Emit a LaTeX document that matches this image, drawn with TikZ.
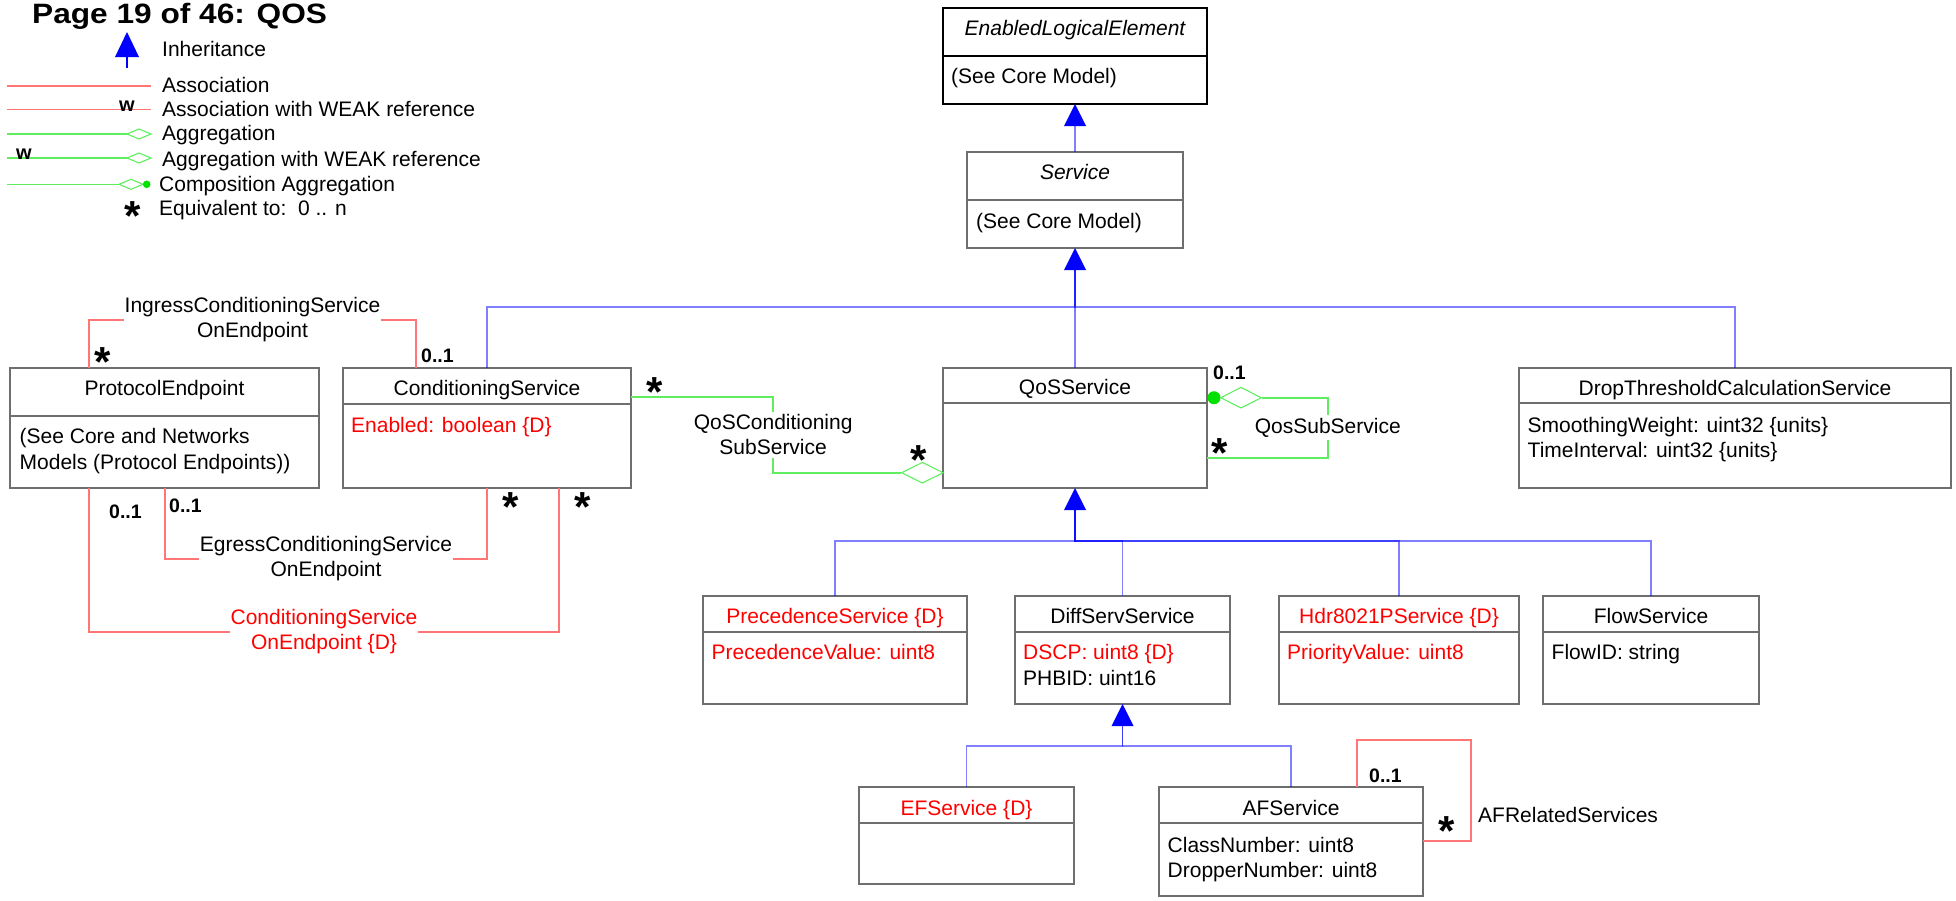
\documentclass[tikz,border=0pt]{standalone}
\usepackage{fontspec}
\setmainfont{Liberation Sans}
\usetikzlibrary{calc,shapes.geometric}
\definecolor{boxgray}{RGB}{110,110,110}
\definecolor{assocred}{RGB}{255,118,118}
\definecolor{agggreen}{RGB}{96,238,96}
\definecolor{compgreen}{RGB}{0,225,0}
\definecolor{dred}{RGB}{255,0,0}
\definecolor{inhblue}{RGB}{0,0,255}
\tikzset{
  clsbox/.style={draw=boxgray, line width=2pt, fill=white, inner sep=0pt, outer sep=0pt, anchor=north west},
  clsline/.style={draw=boxgray, line width=2pt},
  txt/.style={font=\fontsize{21}{25}\selectfont, inner sep=0pt, text=black},
  ttl/.style={txt, anchor=base},
  attr/.style={txt, anchor=base west},
  lbl/.style={font=\fontsize{21}{25}\selectfont, align=center, fill=white, inner xsep=1pt, inner ysep=3pt},
  mult/.style={font=\bfseries\fontsize{19.5}{22}\selectfont, inner sep=0pt, anchor=base west},
  ast/.style={font=\bfseries\fontsize{42}{42}\selectfont, inner sep=0pt, anchor=base},
  inh/.style={draw=inhblue, draw opacity=0.5, line width=1.6pt},
  assoc/.style={draw=assocred, line width=1.6pt},
  agg/.style={draw=agggreen, line width=1.6pt},
  aggdia/.style={diamond, draw=agggreen, fill=white, line width=1.1pt, inner sep=0pt, aspect=2},
  wmark/.style={font=\bfseries\fontsize{20}{22}\selectfont, inner sep=0pt, anchor=base},
}
\newcommand\umlbox[7][]{%
  \node[clsbox,#1,minimum width={#5-#3},minimum height={#6-#4}] (#2) at (#3,#4) {};
  \draw[clsline,#1] (#3,#7) -- (#5,#7);}
\newcommand\inhtip[1]{\fill[inhblue] (#1) -- ++(-11,22) -- ++(22,0) -- cycle;}
\newcommand\astnode[3]{\node[ast] (#1) at (#2,#3+21.5) {*};}
\begin{document}
\begin{tikzpicture}[x=1pt,y=-1pt]
\useasboundingbox (0,0) rectangle (1956,900);
% ---------------- title
\node[anchor=base west, inner sep=0pt, font=\bfseries\fontsize{28}{30}\selectfont] (title) at (32,23) {\scalebox{1.13}[1]{Page 19 of 46: QOS}};
% ---------------- legend
\coordinate (lgI) at (127,32);
\fill[inhblue] (lgI) -- ++(12,25) -- ++(-24,0) -- cycle;
\draw[inhblue, line width=2pt] ($(lgI)+(0,25)$) -- ++(0,11);
\node[attr] (lgIt) at (162,56.7) {Inheritance};
\coordinate (lgA1) at (7,86); \coordinate (lgA2) at (151,86);
\draw[assoc] (lgA1) -- (lgA2);
\node[attr] (lgAt) at (162,92) {Association};
\coordinate (lgW1) at (7,109.5); \coordinate (lgW2) at (151,109.5);
\draw[assoc] (lgW1) -- (lgW2);
\node[wmark] (lgWw) at (127,111) {w};
\node[attr] (lgWt) at (162,116) {Association with WEAK reference};
\coordinate (lgG1) at (7,134); \coordinate (lgG2) at (127,134);
\draw[agg] (lgG1) -- (lgG2);
\draw[draw=agggreen, fill=white, line width=1.1pt] (lgG2) -- ++(12,-5) -- ++(12,5) -- ++(-12,5) -- cycle;
\node[attr] (lgGt) at (162,140) {Aggregation};
\coordinate (lgH1) at (7,158); \coordinate (lgH2) at (127,158);
\draw[agg] (lgH1) -- (lgH2);
\draw[draw=agggreen, fill=white, line width=1.1pt] (lgH2) -- ++(12,-5) -- ++(12,5) -- ++(-12,5) -- cycle;
\node[wmark] (lgHw) at (24,159) {w};
\node[attr] (lgHt) at (162,166.7) {Aggregation with WEAK reference};
\coordinate (lgC1) at (7,184.3); \coordinate (lgC2) at (119,184.3);
\draw[agg] (lgC1) -- (lgC2);
\draw[draw=agggreen, fill=white, line width=1.1pt] (lgC2) -- ++(12,-5) -- ++(12,5) -- ++(-12,5) -- cycle;
\fill[compgreen] (146.7,184.3) circle (3.8);
\node[attr] (lgCt) at (159,191) {Composition Aggregation};
\astnode{s8}{132.5}{209}
\node[attr] (lgEt) at (159,215) {Equivalent to:\ \ 0 .. n};
% ---------------- classes
\umlbox[draw=black,line width=2.6pt]{ele}{943}{8}{1207}{104}{56}
\node[ttl] (ele-t) at (1075,35) {\itshape EnabledLogicalElement};
\node[attr] (ele-a) at (951,83) {(See Core Model)};
\umlbox{svc}{967}{152}{1183}{248}{200}
\node[ttl] (svc-t) at (1075,179) {\itshape Service};
\node[attr] (svc-a) at (976,228) {(See Core Model)};
\umlbox{pe}{10}{368}{319}{488}{416}
\node[ttl] (pe-t) at (164.5,395) {ProtocolEndpoint};
\node[attr] (pe-a1) at (19.5,443) {(See Core and Networks};
\node[attr] (pe-a2) at (19.5,469) {Models (Protocol Endpoints))};
\umlbox{cs}{343}{368}{631}{488}{404}
\node[ttl] (cs-t) at (487,395) {ConditioningService};
\node[attr, text=dred] (cs-a) at (351,432) {Enabled: boolean \{D\}};
\umlbox{qos}{943}{368}{1207}{488}{403}
\node[ttl] (qos-t) at (1075,394) {QoSService};
\umlbox{dtc}{1519}{368}{1951}{488}{403}
\node[ttl] (dtc-t) at (1735,395) {DropThresholdCalculationService};
\node[attr] (dtc-a1) at (1527.5,432) {SmoothingWeight: uint32 \{units\}};
\node[attr] (dtc-a2) at (1527.5,457) {TimeInterval: uint32 \{units\}};
\umlbox{prec}{703}{596}{967}{704}{632}
\node[ttl, text=dred] (prec-t) at (835,623) {PrecedenceService \{D\}};
\node[attr, text=dred] (prec-a) at (711.5,659) {PrecedenceValue: uint8};
\umlbox{dss}{1015}{596}{1230}{704}{632}
\node[ttl] (dss-t) at (1122.5,623) {DiffServService};
\node[attr, text=dred] (dss-a1) at (1023,659) {DSCP: uint8 \{D\}};
\node[attr] (dss-a2) at (1023,685) {PHBID: uint16};
\umlbox{hdr}{1279}{596}{1519}{704}{632}
\node[ttl, text=dred] (hdr-t) at (1399,623) {Hdr8021PService \{D\}};
\node[attr, text=dred] (hdr-a) at (1287,659) {PriorityValue: uint8};
\umlbox{flow}{1543}{596}{1759}{704}{632}
\node[ttl] (flow-t) at (1651,623) {FlowService};
\node[attr] (flow-a) at (1551.5,659) {FlowID: string};
\umlbox{ef}{859}{787}{1074}{884}{823}
\node[ttl, text=dred] (ef-t) at (966.5,815) {EFService \{D\}};
\umlbox{af}{1159}{787}{1423}{896}{823}
\node[ttl] (af-t) at (1291,815) {AFService};
\node[attr] (af-a1) at (1167.5,852) {ClassNumber: uint8};
\node[attr] (af-a2) at (1167.5,877) {DropperNumber: uint8};
% ---------------- inheritance
\draw[inh] (svc.north) -- ($(ele.south)+(0,22)$);
\inhtip{ele.south}
\coordinate (busA) at ($(svc.south)+(0,59)$);
\draw[inh] (cs.north) |- (busA) -- ($(svc.south)+(0,22)$);
\draw[inh] (qos.north) -- ($(svc.south)+(0,22)$);
\draw[inh] (dtc.north) |- (busA) -- ($(svc.south)+(0,22)$);
\inhtip{svc.south}
\coordinate (busB) at ($(qos.south)+(0,53)$);
\foreach \c in {prec,dss,hdr,flow} \draw[inh] (\c.north) |- (busB) -- ($(qos.south)+(0,22)$);
\inhtip{qos.south}
\coordinate (busC) at ($(dss.south)+(0,42)$);
\foreach \c in {ef,af} \draw[inh] (\c.north) |- (busC) -- ($(dss.south)+(0,22)$);
\inhtip{dss.south}
% ---------------- associations
\draw[assoc] ($(pe.north west)+(79,0)$) -- ++(0,-48) -| node[pos=0.25, lbl] (ingl) {IngressConditioningService\\OnEndpoint} ($(cs.north west)+(73,0)$);
\draw[assoc] ($(pe.south west)+(155,0)$) -- ++(0,71) -| node[pos=0.25, lbl] (egl) {EgressConditioningService\\OnEndpoint} (cs.south);
\draw[assoc] ($(pe.south west)+(79,0)$) -- ++(0,144) -| node[pos=0.25, lbl, text=dred] (csol) {ConditioningService\\OnEndpoint \{D\}} ($(cs.south west)+(216,0)$);
\coordinate (afc) at (1471,740);
\draw[assoc] ($(af.north west)+(198,0)$) |- (afc) |- ($(af.north east)+(0,54)$);
\node[attr] (afrl) at (1478,822) {AFRelatedServices};
% ---------------- aggregations
\node[aggdia, minimum width=42, minimum height=21] (qcd) at (922.4,472.7) {};
\draw[agg] ($(cs.north east)+(0,29)$) -| node[pos=0.75, lbl] (qcl) {QoSConditioning\\SubService} ($(qcd.west)+(-127.7,0)$) -- (qcd.west);
\node[circle, fill=compgreen, minimum size=13, inner sep=0pt] (qdot) at (1214,397.7) {};
\node[aggdia, minimum width=41, minimum height=21] (qsd) at (1241,397.7) {};
\draw[agg] (qsd.east) -- ++(65.7,0) -- node[pos=0.5, lbl] (qsl) {QosSubService} ++(0,60) -- (qos.east |- 0,457.7);
% ---------------- multiplicities
\node[mult] (m1) at (421,362) {0..1};
\node[mult] (m2) at (169,512) {0..1};
\node[mult] (m3) at (109,518) {0..1};
\node[mult] (m4) at (1213,379) {0..1};
\node[mult] (m5) at (1369,782) {0..1};
\astnode{s1}{102.5}{355}
\astnode{s2}{511}{500}
\astnode{s3}{583}{500}
\astnode{s4}{655}{385}
\astnode{s5}{919}{452.5}
\astnode{s6}{1219.5}{446}
\astnode{s7}{1446.5}{823.5}
\end{tikzpicture}
\end{document}
